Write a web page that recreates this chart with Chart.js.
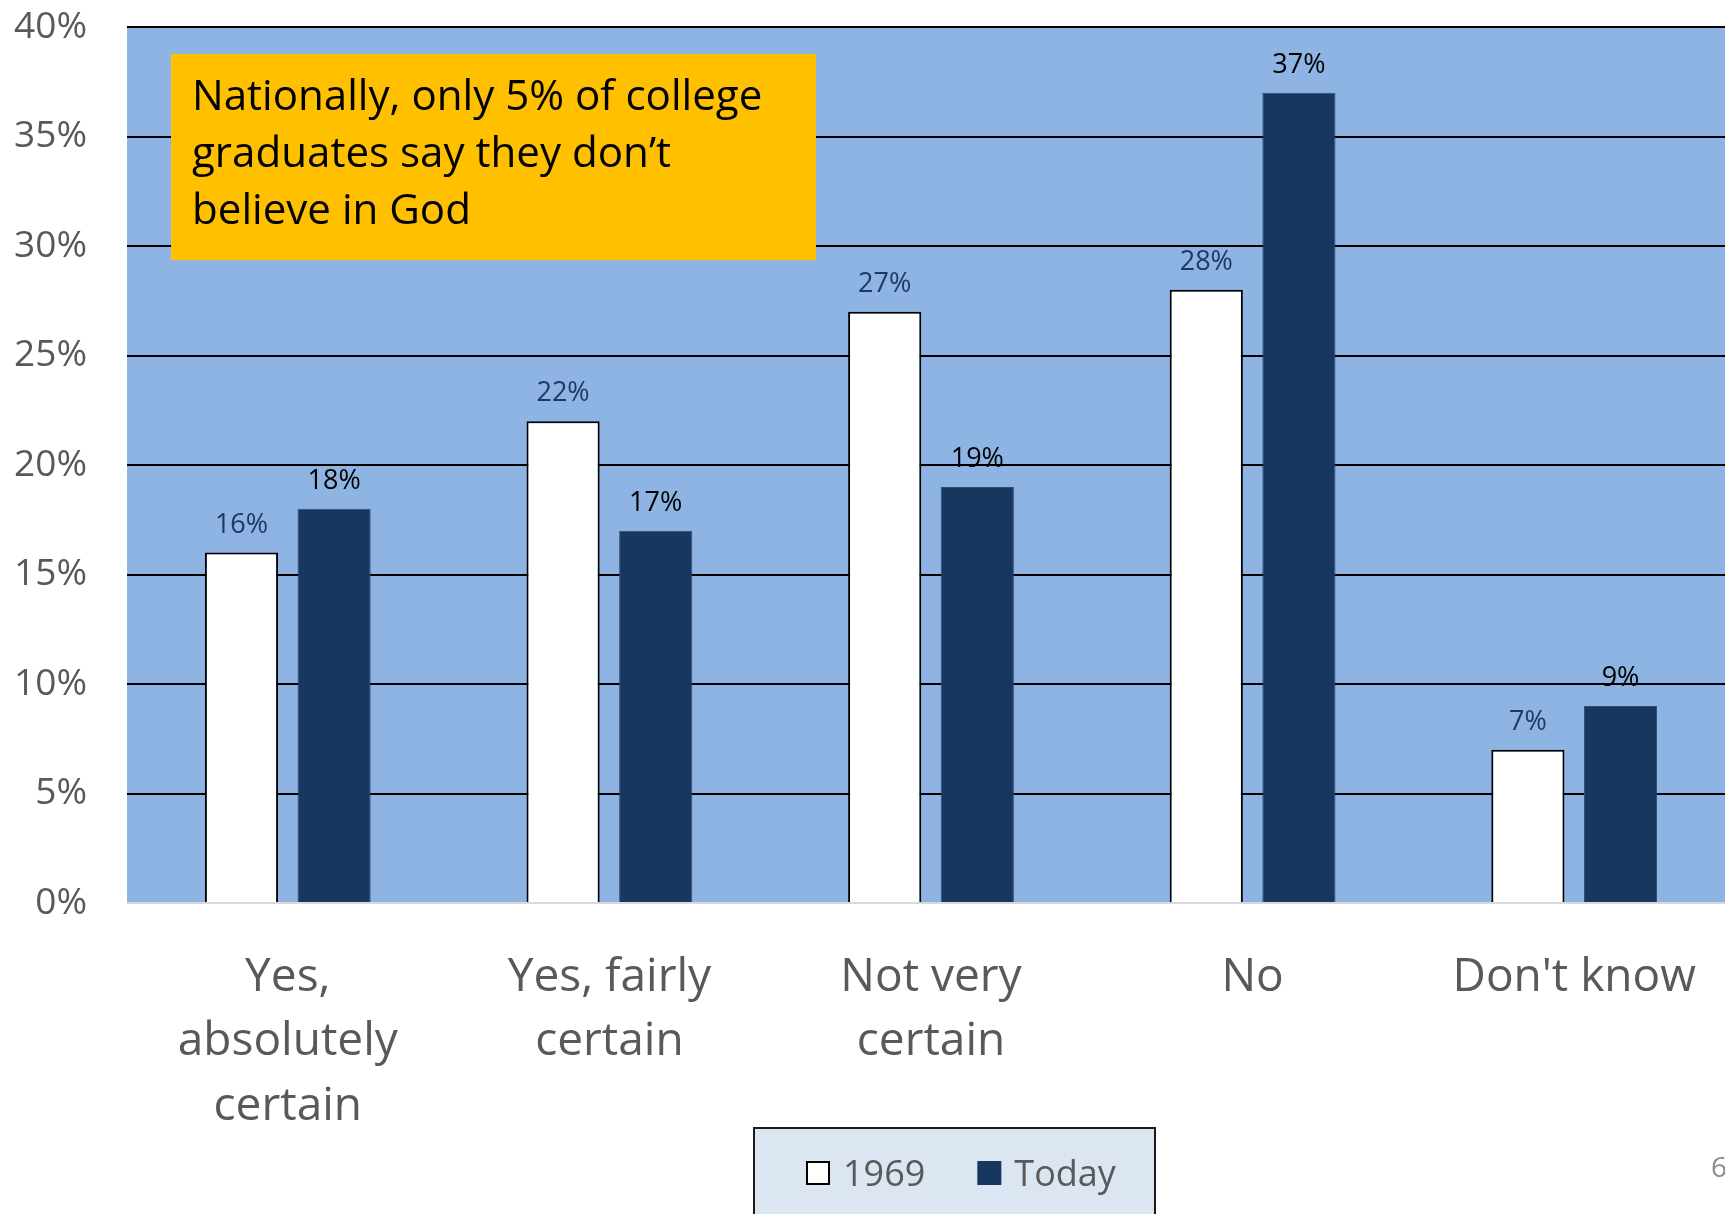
<!DOCTYPE html>
<html><head><meta charset="utf-8">
<script src="https://cdn.jsdelivr.net/npm/chart.js@4.4.1/dist/chart.umd.min.js"></script>
<style>
html,body{margin:0;padding:0;overflow:hidden;background:#fff;width:1725px;height:1214px}
canvas{display:block}
</style></head><body>
<canvas id="c" width="1735" height="1214" style="width:1735px;height:1214px"></canvas>
<script>
// ---- data ----
const categories = [["Yes,","absolutely","certain"],["Yes, fairly","certain"],["Not very","certain"],"No","Don't know"];
const seriesNames = ["1969","Today"];
const values1969 = [16,22,27,28,7];
const valuesToday = [18,17,19,37,9];
const yMin = 0, yMax = 40, yStep = 5;
const annotationLines = ["Nationally, only 5% of college","graduates say they don\u2019t","believe in God"];
const pageNumber = "6";

const FONT = "'Open Sans', 'DejaVu Sans', sans-serif";
const GREY = '#595959';
const NAVY = '#17375E';

const bgPlugin = {
  id: 'bg',
  beforeDraw(chart) {
    const {ctx, chartArea: a} = chart;
    ctx.save();
    ctx.fillStyle = '#8EB4E3';
    ctx.fillRect(a.left, a.top, a.right - a.left, a.bottom - a.top);
    ctx.restore();
  }
};

const labelColors = ['#1F3864', '#000000'];
const valueLabelPlugin = {
  id: 'valueLabels',
  afterDatasetsDraw(chart) {
    const ctx = chart.ctx;
    ctx.save();
    ctx.font = "27px " + FONT;
    ctx.textAlign = 'center';
    ctx.textBaseline = 'alphabetic';
    chart.data.datasets.forEach((ds, di) => {
      const meta = chart.getDatasetMeta(di);
      ctx.fillStyle = labelColors[di];
      meta.data.forEach((bar, i) => {
        ctx.fillText(ds.data[i] + '%', bar.x, bar.y - 20);
      });
    });
    ctx.restore();
  }
};

const annotationPlugin = {
  id: 'annot',
  afterDraw(chart) {
    const {ctx, chartArea: a} = chart;
    const x = a.left + 44, y = a.top + 27, w = 645, h = 206;
    ctx.save();
    ctx.fillStyle = '#FFC000';
    ctx.fillRect(x, y, w, h);
    ctx.fillStyle = '#000';
    ctx.font = "40px " + FONT;
    const m = ctx.measureText(annotationLines[0]).width;
    const size = 40 * 571 / m;
    ctx.font = size.toFixed(1) + "px " + FONT;
    ctx.textAlign = 'left';
    ctx.textBaseline = 'alphabetic';
    annotationLines.forEach((t, i) => ctx.fillText(t, x + 21, y + 56 + i * 57));
    ctx.restore();
  }
};

const legendPlugin = {
  id: 'customLegend',
  afterDraw(chart) {
    const ctx = chart.ctx;
    const bx = 754, by = 1128, bw = 401, bh = 120;
    ctx.save();
    ctx.fillStyle = '#DCE6F2';
    ctx.fillRect(bx, by, bw, bh);
    ctx.strokeStyle = '#1a1a1a';
    ctx.lineWidth = 2;
    ctx.strokeRect(bx, by, bw, bh);
    ctx.font = "36px " + FONT;
    ctx.textBaseline = 'alphabetic';
    ctx.textAlign = 'left';
    let x = bx + 52;
    const base = by + 58;
    chart.data.datasets.forEach((ds, i) => {
      if (i === 0) {
        ctx.fillStyle = '#fff';
        ctx.fillRect(x, base - 25, 24, 24);
        ctx.strokeStyle = '#000';
        ctx.lineWidth = 2;
        ctx.strokeRect(x + 1, base - 24, 22, 22);
      } else {
        ctx.fillStyle = ds.backgroundColor;
        ctx.fillRect(x, base - 25, 24, 24);
      }
      ctx.fillStyle = GREY;
      ctx.fillText(ds.label, x + 37, base);
      x += 37 + ctx.measureText(ds.label).width + 52;
    });
    // slide number
    ctx.fillStyle = '#8C8C8C';
    ctx.font = "28px " + FONT;
    ctx.fillText(pageNumber, 1711, 1177);
    ctx.restore();
  }
};

new Chart(document.getElementById('c'), {
  type: 'bar',
  data: {
    labels: categories,
    datasets: [
      { label: seriesNames[0], data: values1969, backgroundColor: '#FFFFFF', borderColor: '#000000', borderWidth: 2,
        categoryPercentage: 0.576, barPercentage: 0.79 },
      { label: seriesNames[1], data: valuesToday, backgroundColor: NAVY, borderColor: '#2E4D75', borderWidth: 1,
        categoryPercentage: 0.576, barPercentage: 0.79 }
    ]
  },
  options: {
    responsive: false,
    animation: false,
    devicePixelRatio: 1,
    layout: { padding: { top: 27, left: 0, right: 0, bottom: 0 } },
    plugins: { legend: { display: false }, tooltip: { enabled: false } },
    scales: {
      x: {
        grid: { display: false },
        border: { display: false },
        ticks: { font: { family: FONT, size: 46, lineHeight: 1.41 }, color: GREY, maxRotation: 0, autoSkip: false, padding: 34 },
        afterFit(s) { s.height = 311; s.paddingTop = 0; s.paddingBottom = 0; s.paddingLeft = 0; s.paddingRight = 0; }
      },
      y: {
        min: yMin, max: yMax,
        ticks: { stepSize: yStep, callback: v => v + '%', font: { family: FONT, size: 37 }, color: GREY, padding: 40 },
        grid: { color: c => c.tick.value === 0 ? '#D9D9D9' : '#000000', lineWidth: 2, drawTicks: false },
        border: { display: false },
        afterFit(s) { s.width = 127; s.paddingTop = 0; s.paddingBottom = 0; s.paddingLeft = 0; s.paddingRight = 0; }
      }
    }
  },
  plugins: [bgPlugin, valueLabelPlugin, annotationPlugin, legendPlugin]
});
</script>
</body></html>
